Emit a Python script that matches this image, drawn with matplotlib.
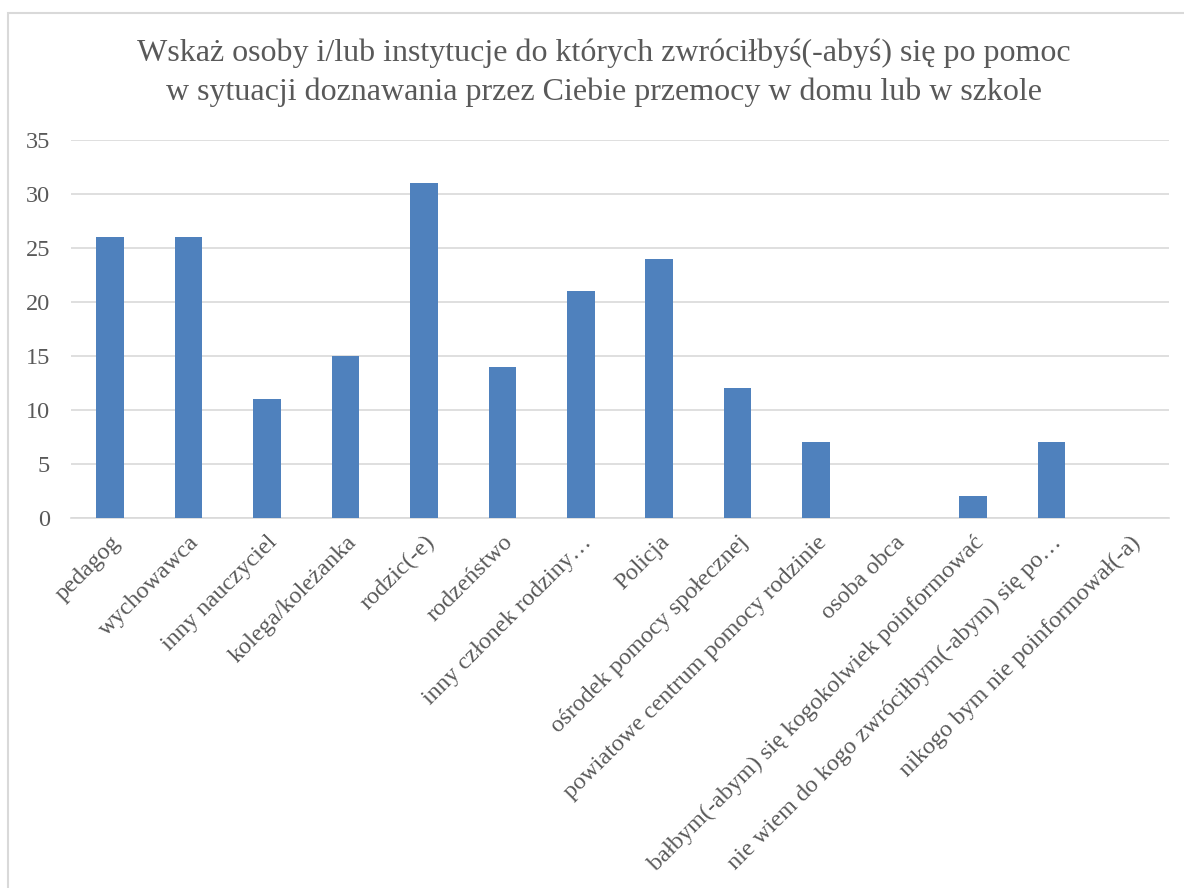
import matplotlib
matplotlib.use('Agg')
import matplotlib.pyplot as plt
import matplotlib.patches as patches

categories = ['pedagog', 'wychowawca', 'inny nauczyciel', 'kolega/koleżanka',
              'rodzic(-e)', 'rodzeństwo', 'inny członek rodziny…', 'Policja',
              'ośrodek pomocy społecznej', 'powiatowe centrum pomocy rodzinie',
              'osoba obca', 'bałbym(-abym) się kogokolwiek poinformować',
              'nie wiem do kogo zwróciłbym(-abym) się po…',
              'nikogo bym nie poinformował(-a)']
values = [26, 26, 11, 15, 31, 14, 21, 24, 12, 7, 0, 2, 7, 0]
yticks = [0, 5, 10, 15, 20, 25, 30, 35]

title = ('Wskaż osoby i/lub instytucje do których zwróciłbyś(-abyś) się po pomoc\n'
         'w sytuacji doznawania przez Ciebie przemocy w domu lub w szkole')

plt.rcParams['font.family'] = ['Liberation Serif', 'DejaVu Serif']
grey = '#595959'

fig = plt.figure(figsize=(11.84, 8.88), dpi=100)
# chart frame, runs off the right and bottom edges
fig.patches.append(patches.Rectangle((8 / 1184, -0.1), 1.2, 1 - 13 / 888 + 0.1,
                                     transform=fig.transFigure, fill=False,
                                     edgecolor='#D9D9D9', linewidth=1.5))

ax = fig.add_axes([71 / 1184, 1 - 518 / 888, 1098 / 1184, 378 / 888])
x = list(range(len(categories)))
ax.bar(x, values, width=0.35, color='#4F81BD', zorder=3)
ax.set_xlim(-0.5, len(categories) - 0.5)
ax.set_ylim(0, 35)
ax.set_yticks(yticks)
ax.yaxis.grid(True, color='#D9D9D9', linewidth=1.2, zorder=0)
for s in ['top', 'right', 'left']:
    ax.spines[s].set_visible(False)
ax.spines['bottom'].set_color('#D9D9D9')
ax.spines['bottom'].set_linewidth(1.2)
ax.tick_params(axis='both', length=0, labelsize=17.5, labelcolor=grey)
ax.tick_params(axis='y', pad=15)
ax.set_xticks(x)
ax.set_xticklabels(categories, rotation=45, ha='right', rotation_mode='anchor')
ax.tick_params(axis='x', pad=10)

fig.text(0.510, 0.957, title, ha='center', va='top', fontsize=23, color=grey,
         linespacing=1.45)

fig.savefig('out.png', dpi=100, facecolor='white')
